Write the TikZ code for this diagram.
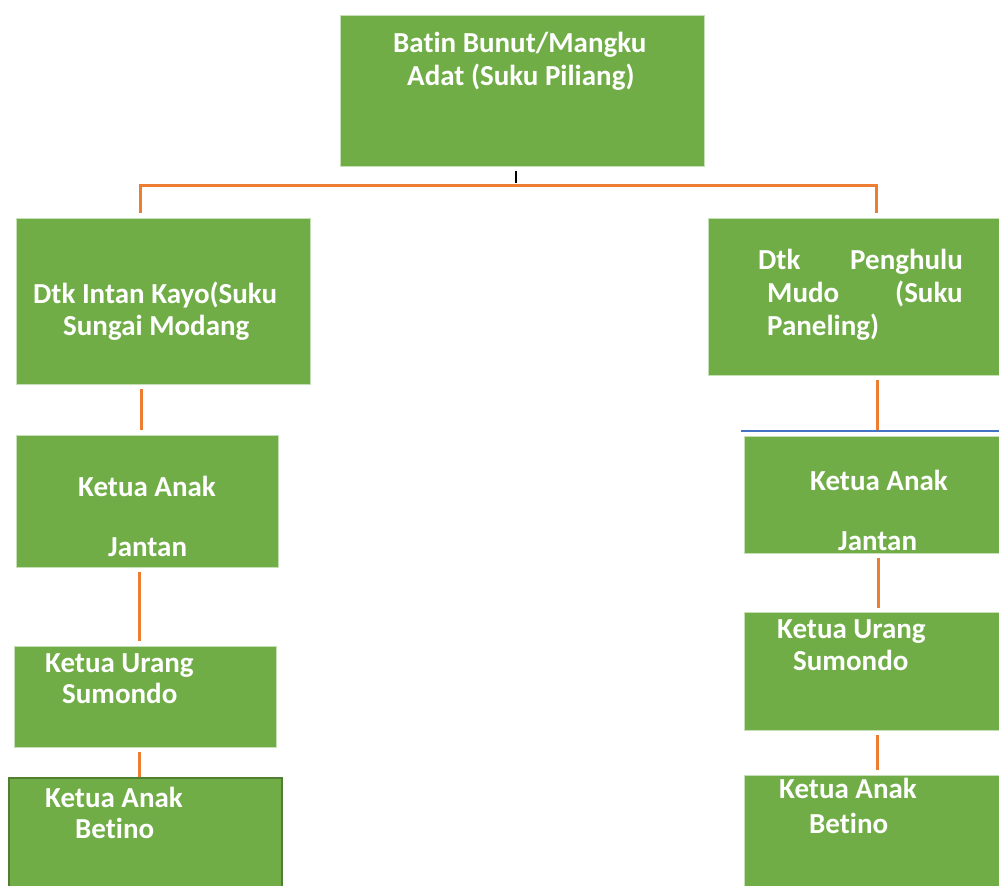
\documentclass[tikz,border=0pt]{standalone}
\usepackage{fontspec}
\setmainfont[Ligatures=CommonOff]{Carlito}
\definecolor{boxgreen}{HTML}{70AD47}
\definecolor{boxedge}{HTML}{C5E0B4}
\definecolor{darkedge}{HTML}{507E32}
\definecolor{conn}{HTML}{ED7D31}
\definecolor{blueline}{HTML}{4472C4}
\tikzset{
  box/.style={rectangle, fill=boxgreen, draw=boxedge, line width=0.8pt, inner sep=0pt},
  lbl/.style={anchor=base west, inner sep=0pt, text=white, font=\fontsize{29}{34}\selectfont\bfseries},
  link/.style={draw=conn, line width=3pt},
}
\begin{document}
\begin{tikzpicture}[x=1pt,y=-1pt]
\useasboundingbox (0,0) rectangle (999,886);
% boxes
\node[box, minimum width=364, minimum height=151] (top) at (522,90.5) {};
\node[box, minimum width=294, minimum height=166] (l2) at (163,301) {};
\node[box, minimum width=297, minimum height=157] (r2) at (856.5,296.5) {};
\node[box, minimum width=262, minimum height=132] (l3) at (147,501) {};
\node[box, minimum width=262, minimum height=101] (l4) at (145,696.5) {};
\node[box, draw=darkedge, line width=2pt, minimum width=273, minimum height=112] (l5) at (145.5,834) {};
\node[box, minimum width=261, minimum height=117] (r3) at (874.5,494.5) {};
\node[box, minimum width=261, minimum height=118] (r4) at (874.5,671) {};
\node[box, minimum width=261, minimum height=115] (r5) at (874.5,832.5) {};
% texts
\node[lbl] (t1) at (393,52) {Batin Bunut/Mangku};
\node[lbl] (t2) at (407,85) {Adat (Suku Piliang)};
\node[lbl] (t3) at (33,303) {Dtk Intan Kayo(Suku};
\node[lbl] (t4) at (63,335) {Sungai Modang};
\node[lbl] (t5) at (758,269) {Dtk};
\node[lbl] (t6) at (850,269) {Penghulu};
\node[lbl] (t7) at (767,302) {Mudo};
\node[lbl] (t8) at (895,302) {(Suku};
\node[lbl] (t9) at (767,335) {Paneling)};
\node[lbl] (t10) at (78,496) {Ketua Anak};
\node[lbl] (t11) at (108,556) {Jantan};
\node[lbl] (t12) at (45,672) {Ketua Urang};
\node[lbl] (t13) at (62,703) {Sumondo};
\node[lbl] (t14) at (45,807) {Ketua Anak};
\node[lbl] (t15) at (75,838) {Betino};
\node[lbl] (t16) at (810,490) {Ketua Anak};
\node[lbl] (t17) at (838,550) {Jantan};
\node[lbl] (t18) at (777,638) {Ketua Urang};
\node[lbl] (t19) at (793,670) {Sumondo};
\node[lbl] (t20) at (779,798) {Ketua Anak};
\node[lbl] (t21) at (809,833) {Betino};
% connectors
\coordinate (bus) at (516,185);
\draw[black, line width=1.2pt, shorten <=5pt] (516,0 |- top.south) -- (516,183);
\draw[link, shorten <=5pt, shorten >=5pt] (140,0 |- l2.north) |- (bus) -| (876,0 |- r2.north);
\draw[link, shorten <=5pt, shorten >=5pt] (141,0 |- l2.south) -- (141,0 |- l3.north);
\draw[link, shorten <=5pt, shorten >=5pt] (139.5,0 |- l3.south) -- (139.5,0 |- l4.north);
\draw[link, shorten <=5pt] (139,0 |- l4.south) -- (139,0 |- l5.north);
\draw[link, shorten <=5pt, shorten >=6pt] (877,0 |- r2.south) -- (877,0 |- r3.north);
\coordinate (bl) at (741,431);
\coordinate (br) at (1005,431);
\draw[blueline, line width=1.2pt] (bl) -- (br);
\draw[link, shorten <=5pt, shorten >=4pt] (878,0 |- r3.south) -- (878,0 |- r4.north);
\draw[link, shorten <=5pt, shorten >=5pt] (877,0 |- r4.south) -- (877,0 |- r5.north);
\end{tikzpicture}
\end{document}
